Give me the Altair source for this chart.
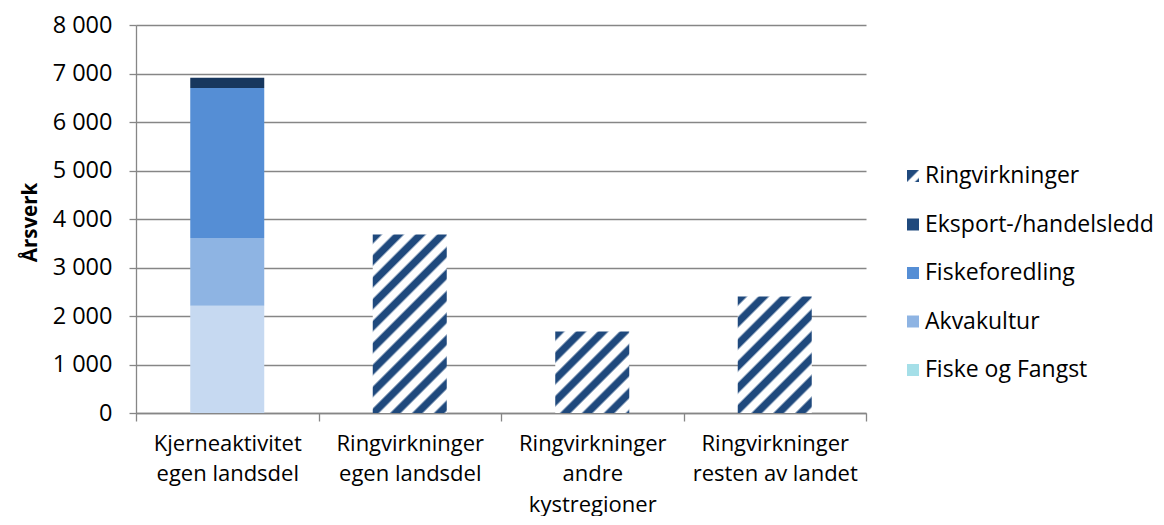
import math
import altair as alt
import pandas as pd

# ---------------- data ----------------
categories = [
    "Kjerneaktivitet|egen landsdel",
    "Ringvirkninger|egen landsdel",
    "Ringvirkninger|andre|kystregioner",
    "Ringvirkninger|resten av landet",
]

core_segments = ["Fiske og Fangst", "Akvakultur", "Fiskeforedling", "Eksport-/handelsledd"]
core_values = [2210, 1400, 3090, 210]
core_colors = ["#C6D9F1", "#8EB4E3", "#558ED5", "#17375E"]

ring_categories = categories[1:]
ring_values = [3680, 1680, 2400]

legend_labels = ["Ringvirkninger", "Eksport-/handelsledd", "Fiskeforedling", "Akvakultur", "Fiske og Fangst"]
legend_colors = ["#1F497D", "#1F497D", "#558ED5", "#8EB4E3", "#A5DFE8"]

y_ticks = [0, 1000, 2000, 3000, 4000, 5000, 6000, 7000, 8000]
y_max = 8000

# ---------------- style ----------------
FONT = "Open Sans"
FS = 23.5
GRID = "#868686"
HATCH = "#1F497D"
W, H = 730, 388
BAR_BAND = 74 / (W / len(categories))


def hatch_gradient(w, h, period=15.5, dark=0.36, soft=0.12, color=HATCH):
    """Diagonal '/' stripes via a linear gradient in bounding-box units."""
    dist = (w + h * h / w) / math.sqrt(2)
    n = dist / period
    stops = []
    k = 0
    while k / n <= 1:
        for off, col in [(k, color), (k + dark, color), (k + dark + soft, "white"), (k + 1 - soft, "white")]:
            o = off / n
            if o <= 1:
                stops.append(alt.GradientStop(offset=o, color=col))
        k += 1
    return alt.LinearGradient(gradient="linear", stops=stops, x1=0, y1=0, x2=1, y2=h / w)


x_enc = alt.X(
    "category:N",
    sort=categories,
    scale=alt.Scale(domain=categories, paddingInner=0, paddingOuter=0),
    axis=alt.Axis(
        title=None,
        labelAngle=0,
        labelExpr="split(datum.label, '|')",
        labelFont=FONT,
        labelFontSize=22,
        labelColor="black",
        labelLineHeight=30.5,
        labelBaseline="top",
        labelPadding=12,
        tickSize=8,
        tickBand="extent",
        tickColor=GRID,
        domainColor=GRID,
        grid=False,
    ),
)

y_scale = alt.Scale(domain=[0, y_max], nice=False)

core_df = pd.DataFrame({
    "category": [categories[0]] * len(core_segments),
    "segment": core_segments,
    "value": core_values,
    "ord": list(range(len(core_segments))),
})

core = alt.Chart(core_df).mark_bar(width=alt.RelativeBandSize(BAR_BAND)).encode(
    x=x_enc,
    y=alt.Y(
        "value:Q",
        stack="zero",
        scale=y_scale,
        axis=alt.Axis(
            values=y_ticks,
            labelExpr="replace(format(datum.value, ','), ',', ' ')",
            labelFont=FONT,
            labelFontSize=FS,
            labelColor="black",
            labelPadding=17,
            tickSize=7,
            tickColor=GRID,
            domainColor=GRID,
            gridColor=GRID,
            title="Årsverk",
            titleFont=FONT,
            titleFontSize=20.5,
            titleFontWeight="bold",
            titleColor="black",
            titleAngle=270,
            titleAlign="center",
            titleBaseline="middle",
            titleX=-106,
            titleY=H / 2 + 3,
        ),
    ),
    color=alt.Color("segment:N", scale=alt.Scale(domain=core_segments, range=core_colors), legend=None),
    order=alt.Order("ord:Q"),
)

layers = [core]
for cat, val in zip(ring_categories, ring_values):
    df = pd.DataFrame({"category": [cat], "value": [val]})
    bar_h = val / y_max * H
    layers.append(
        alt.Chart(df).mark_bar(
            width=alt.RelativeBandSize(BAR_BAND),
            fill=hatch_gradient(74, bar_h),
        ).encode(
            x=x_enc,
            y=alt.Y("value:Q", stack=None, scale=y_scale, axis=None),
        )
    )

# ---------------- legend ----------------
leg_df = pd.DataFrame({"label": legend_labels})
leg_y = alt.Y(
    "label:N",
    sort=legend_labels,
    scale=alt.Scale(domain=legend_labels, range=[151, 345], padding=0),
    axis=None,
)

leg_sq = alt.Chart(leg_df).mark_square(size=144, opacity=1, filled=True).encode(
    x=alt.value(777),
    y=leg_y,
    color=alt.Color("label:N", scale=alt.Scale(domain=legend_labels, range=legend_colors), legend=None),
)

sw_grad = alt.LinearGradient(
    gradient="linear",
    x1=0, y1=0, x2=1, y2=1,
    stops=[
        alt.GradientStop(offset=0, color=HATCH),
        alt.GradientStop(offset=0.45, color=HATCH),
        alt.GradientStop(offset=0.55, color="white"),
        alt.GradientStop(offset=0.78, color="white"),
        alt.GradientStop(offset=0.88, color=HATCH),
        alt.GradientStop(offset=1, color=HATCH),
    ],
)
leg_hatch = alt.Chart(leg_df).transform_filter(
    alt.datum.label == legend_labels[0]
).mark_square(size=144, opacity=1, filled=True, fill=sw_grad).encode(
    x=alt.value(777),
    y=leg_y,
)

leg_text = alt.Chart(leg_df).mark_text(
    align="left", baseline="middle", font=FONT, fontSize=23, color="black"
).encode(
    x=alt.value(789),
    y=leg_y,
    text="label:N",
)

chart = alt.layer(*layers, leg_sq, leg_hatch, leg_text).resolve_scale(
    y="independent", color="independent"
).properties(
    width=W,
    height=H,
    padding={"left": 128, "top": 17, "right": 289, "bottom": 103},
    autosize=alt.AutoSizeParams(type="none"),
    background="white",
).configure_view(stroke=None).configure_axis(gridWidth=1.3, domainWidth=1.3, tickWidth=1.3)

chart.save("out.html", embed_options={"renderer": "svg", "actions": False})
